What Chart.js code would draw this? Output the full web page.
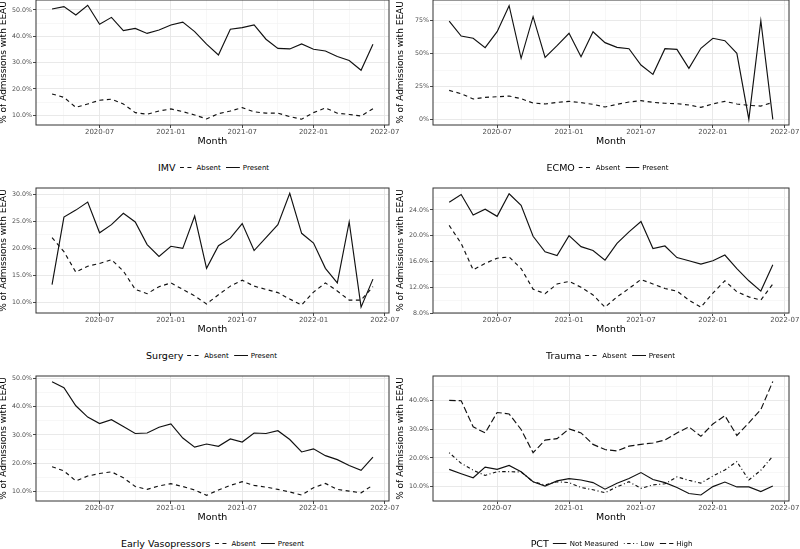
<!DOCTYPE html>
<html>
<head>
<meta charset="utf-8">
<script src="https://cdn.jsdelivr.net/npm/chart.js@4.4.1/dist/chart.umd.min.js"></script>
<style>
  html, body { margin: 0; padding: 0; background: #fff; }
  body { width: 800px; height: 549px; position: relative; overflow: hidden; font-family: "DejaVu Sans", sans-serif; }
  canvas { position: absolute; }
  .legend { position: absolute; display: flex; align-items: center; white-space: nowrap; transform: translate(-50%, -50%); color: #000; }
  .legend .ttl { font-size: 9.5px; margin-right: 4px; }
  .legend .lbl { font-size: 7px; margin-right: 5px; }
  .legend svg { margin-right: 3px; }
</style>
</head>
<body>
<canvas id="imvChart" width="401" height="160" style="left:-1px;top:-10px"></canvas>
<canvas id="ecmoChart" width="404" height="160" style="left:396px;top:-10px"></canvas>
<canvas id="surgeryChart" width="401" height="160" style="left:-1px;top:178px"></canvas>
<canvas id="traumaChart" width="404" height="160" style="left:396px;top:178px"></canvas>
<canvas id="vasoChart" width="401" height="160" style="left:-1px;top:366px"></canvas>
<canvas id="pctChart" width="404" height="160" style="left:396px;top:366px"></canvas>

<script>
// Monthly data, 2020-03 .. 2022-06
const months = [
  "2020-03", "2020-04", "2020-05", "2020-06", "2020-07", "2020-08", "2020-09",
  "2020-10", "2020-11", "2020-12", "2021-01", "2021-02", "2021-03", "2021-04",
  "2021-05", "2021-06", "2021-07", "2021-08", "2021-09", "2021-10", "2021-11",
  "2021-12", "2022-01", "2022-02", "2022-03", "2022-04", "2022-05", "2022-06",
];
const tickLabels = ["2020-07", "2021-01", "2021-07", "2022-01", "2022-07"];

const imvAbsent = [18.1, 16.8, 13.0, 14.3, 15.7, 16.1, 14.3, 11.0, 10.4, 11.6, 12.4, 11.4, 10.1, 8.6, 10.6, 11.6, 12.9, 11.3, 10.8, 10.8, 9.5, 8.5, 11.0, 12.8, 10.8, 10.3, 9.7, 12.5];
const imvPresent = [50.4, 51.3, 48.1, 51.8, 44.6, 47.2, 42.2, 43.0, 41.1, 42.4, 44.3, 45.4, 41.8, 37.0, 32.9, 42.7, 43.3, 44.3, 38.9, 35.4, 35.2, 37.1, 35.1, 34.4, 32.3, 30.8, 27.1, 37.0];

const ecmoAbsent = [22.0, 19.5, 15.5, 16.7, 17.2, 17.7, 15.7, 12.4, 11.7, 12.9, 13.7, 12.7, 11.4, 9.4, 11.4, 13.2, 14.2, 12.9, 12.2, 11.9, 10.9, 9.1, 11.7, 13.7, 11.7, 10.6, 10.1, 12.9];
const ecmoPresent = [74.7, 63.3, 61.6, 54.5, 66.6, 86.4, 46.4, 78.0, 47.1, 56.0, 65.4, 47.6, 66.6, 58.3, 54.7, 53.7, 41.3, 34.2, 53.7, 53.2, 38.8, 54.0, 61.6, 59.8, 50.2, 0, 75.0, 0];

const surgeryAbsent = [22.0, 19.4, 15.6, 16.7, 17.2, 17.9, 15.8, 12.4, 11.6, 12.9, 13.6, 12.4, 11.2, 9.7, 11.4, 13.0, 14.1, 13.0, 12.4, 11.8, 10.6, 9.5, 11.9, 13.6, 12.1, 10.4, 10.4, 12.9];
const surgeryPresent = [13.3, 25.8, 27.1, 28.6, 22.9, 24.4, 26.5, 24.9, 20.7, 18.5, 20.4, 20.0, 26.0, 16.3, 20.5, 21.9, 24.6, 19.6, 22.0, 24.4, 30.2, 22.8, 21.0, 16.3, 13.6, 24.9, 9.1, 14.3];

const traumaAbsent = [21.6, 18.8, 14.7, 15.7, 16.5, 16.7, 14.9, 11.7, 11.0, 12.5, 12.9, 12.0, 10.8, 8.9, 10.5, 11.8, 13.2, 12.5, 11.8, 11.4, 10.0, 8.9, 11.1, 13.0, 11.3, 10.5, 10.0, 12.5];
const traumaPresent = [25.2, 26.4, 23.2, 24.1, 23.0, 26.5, 24.7, 19.9, 17.5, 16.9, 20.0, 18.3, 17.7, 16.2, 18.8, 20.6, 22.2, 18.0, 18.4, 16.6, 16.1, 15.6, 16.1, 17.0, 14.9, 13.0, 11.4, 15.5];

const vasoAbsent = [18.8, 17.3, 13.8, 15.5, 16.4, 17.0, 14.9, 11.8, 10.8, 12.0, 12.8, 11.8, 10.6, 8.7, 10.6, 12.2, 13.5, 12.2, 11.6, 10.8, 9.9, 8.8, 11.4, 12.9, 10.8, 10.2, 9.6, 12.3];
const vasoPresent = [48.8, 46.7, 40.3, 36.3, 34.0, 35.4, 33.0, 30.5, 30.7, 32.7, 33.9, 28.9, 25.7, 26.8, 26.0, 28.6, 27.5, 30.7, 30.5, 31.5, 28.4, 24.0, 25.1, 22.7, 21.3, 19.2, 17.5, 22.2];

const pctNotMeasured = [16.0, 14.5, 13.1, 16.8, 16.0, 17.4, 15.2, 11.7, 10.2, 12.0, 12.8, 12.3, 11.4, 9.1, 11.2, 12.8, 14.9, 12.5, 11.4, 9.7, 7.6, 7.1, 10.0, 11.6, 9.9, 9.9, 8.3, 10.2];
const pctLow = [21.8, 18.1, 15.7, 13.9, 15.2, 15.2, 15.1, 11.7, 10.6, 11.7, 11.4, 9.7, 8.9, 7.9, 9.9, 11.7, 9.4, 10.6, 11.0, 13.4, 12.2, 11.2, 13.7, 15.8, 18.7, 12.3, 15.7, 20.6];
const pctHigh = [40.0, 39.9, 30.8, 28.7, 35.8, 35.3, 29.9, 21.8, 26.2, 26.7, 30.1, 28.7, 24.7, 22.9, 22.4, 24.1, 24.7, 25.2, 26.2, 28.7, 30.8, 27.5, 31.8, 34.7, 27.8, 32.2, 36.8, 46.6];

// line types (ggplot style)
const DASHED = [4, 3.5];
const SOLID = [];
const DOTDASH = [1, 2.5, 3.5, 2.5];
const LONGDASH = [6.5, 3];

Chart.defaults.font.family = "'DejaVu Sans', sans-serif";

const monthIndex = (m) => {
  const [y, mo] = m.split("-").map(Number);
  return (y - 2020) * 12 + (mo - 3);
};
const majorX = tickLabels.map(monthIndex);
const xTickValues = majorX.flatMap((v) => [v - 3, v]);

// draws the panel frame like theme_bw
const panelBorder = {
  id: "panelBorder",
  afterDatasetsDraw(chart) {
    const { ctx, chartArea: a } = chart;
    ctx.save();
    ctx.strokeStyle = "#333333";
    ctx.lineWidth = 1;
    ctx.strokeRect(a.left, a.top, a.right - a.left, a.bottom - a.top);
    ctx.restore();
  },
};

function makePanel(id, p) {
  const ctx = document.getElementById(id).getContext("2d");
  const width = ctx.canvas.width;
  const plotWidth = p.right - p.left;
  const half = p.step / 2;
  const isMajorY = (v) => Math.abs(v / p.step - Math.round(v / p.step)) < 1e-6;
  const yTicks = [];
  for (let v = Math.ceil(p.yMin / half) * half; v <= p.yMax + 1e-9; v += half) yTicks.push(v);

  new Chart(ctx, {
    type: "line",
    data: {
      datasets: p.series.map((s) => ({
        label: s.name,
        data: months.map((m, i) => ({ x: monthIndex(m), y: s.values[i] })),
        borderColor: "#111111",
        borderWidth: 1.15,
        borderDash: s.dash,
        pointRadius: 0,
        tension: 0,
        fill: false,
      })),
    },
    options: {
      responsive: false,
      animation: false,
      events: [],
      layout: { padding: { top: 10, left: 0, bottom: 0, right: width - 37 - plotWidth } },
      plugins: { legend: { display: false }, tooltip: { enabled: false } },
      scales: {
        x: {
          type: "linear",
          bounds: "data",
          min: -1.35,
          max: 28.35,
          afterFit: (s) => { s.height = 25; },
          afterBuildTicks: (s) => { s.ticks = xTickValues.map((v) => ({ value: v })); },
          border: { display: false },
          grid: {
            color: (c) => (majorX.includes(c.tick.value) ? "#e6e6e6" : "#f2f2f2"),
            lineWidth: (c) => (majorX.includes(c.tick.value) ? 0.9 : 0.6),
            tickColor: (c) => (majorX.includes(c.tick.value) ? "#333333" : "rgba(0,0,0,0)"),
            tickLength: 3,
          },
          ticks: {
            autoSkip: false,
            maxRotation: 0,
            padding: 0,
            color: "#4d4d4d",
            font: { size: 7 },
            callback: (v) => (majorX.includes(v) ? tickLabels[majorX.indexOf(v)] : ""),
          },
          title: {
            display: true,
            text: "Month",
            color: "#000",
            font: { size: 9.5, lineHeight: 1.2 },
            padding: { top: 0, bottom: 2.5 },
          },
        },
        y: {
          bounds: "data",
          min: p.yMin,
          max: p.yMax,
          afterFit: (s) => { s.width = 37; },
          afterBuildTicks: (s) => { s.ticks = yTicks.map((v) => ({ value: v })); },
          border: { display: false },
          grid: {
            color: (c) => (isMajorY(c.tick.value) ? "#e6e6e6" : "#f2f2f2"),
            lineWidth: (c) => (isMajorY(c.tick.value) ? 0.9 : 0.6),
            tickColor: (c) => (isMajorY(c.tick.value) ? "#333333" : "rgba(0,0,0,0)"),
            tickLength: 3,
          },
          ticks: {
            padding: 1,
            color: "#4d4d4d",
            font: { size: 6.3 },
            callback: (v) => (isMajorY(v) ? v.toFixed(p.decimals) + "%" : ""),
          },
          title: {
            display: true,
            text: "% of Admissions with EEAU",
            color: "#000",
            font: { size: 9, lineHeight: 1 },
            padding: 0,
          },
        },
      },
    },
    plugins: [panelBorder],
  });

  // legend below the panel
  const leg = document.createElement("div");
  leg.className = "legend";
  leg.style.left = p.legendX + "px";
  leg.style.top = p.legendY + "px";
  let html = `<span class="ttl">${p.title}</span>`;
  p.series.forEach((s) => {
    html += `<svg width="14" height="6"><line x1="0" y1="3" x2="14" y2="3" stroke="#111" stroke-width="1.1" stroke-dasharray="${s.dash.join(" ") || "none"}"/></svg><span class="lbl">${s.name}</span>`;
  });
  leg.innerHTML = html;
  document.body.appendChild(leg);
}

makePanel("imvChart", {
  title: "IMV", left: 36, right: 389, yMin: 6.3, yMax: 53.8, step: 10, decimals: 1,
  legendX: 216, legendY: 167,
  series: [
    { name: "Absent", values: imvAbsent, dash: DASHED },
    { name: "Present", values: imvPresent, dash: SOLID },
  ],
});

makePanel("ecmoChart", {
  title: "ECMO", left: 433, right: 789, yMin: -4.3, yMax: 90.7, step: 25, decimals: 0,
  legendX: 610, legendY: 167,
  series: [
    { name: "Absent", values: ecmoAbsent, dash: DASHED },
    { name: "Present", values: ecmoPresent, dash: SOLID },
  ],
});

makePanel("surgeryChart", {
  title: "Surgery", left: 36, right: 389, yMin: 8.02, yMax: 31.2, step: 5, decimals: 1,
  legendX: 214, legendY: 355,
  series: [
    { name: "Absent", values: surgeryAbsent, dash: DASHED },
    { name: "Present", values: surgeryPresent, dash: SOLID },
  ],
});

makePanel("traumaChart", {
  title: "Trauma", left: 433, right: 789, yMin: 8.0, yMax: 27.4, step: 4, decimals: 1,
  legendX: 613, legendY: 355,
  series: [
    { name: "Absent", values: traumaAbsent, dash: DASHED },
    { name: "Present", values: traumaPresent, dash: SOLID },
  ],
});

makePanel("vasoChart", {
  title: "Early Vasopressors", left: 36, right: 389, yMin: 6.7, yMax: 50.8, step: 10, decimals: 1,
  legendX: 215, legendY: 543,
  series: [
    { name: "Absent", values: vasoAbsent, dash: DASHED },
    { name: "Present", values: vasoPresent, dash: SOLID },
  ],
});

makePanel("pctChart", {
  title: "PCT", left: 433, right: 789, yMin: 5.0, yMax: 48.5, step: 10, decimals: 1,
  legendX: 614, legendY: 543,
  series: [
    { name: "Not Measured", values: pctNotMeasured, dash: SOLID },
    { name: "Low", values: pctLow, dash: DOTDASH },
    { name: "High", values: pctHigh, dash: LONGDASH },
  ],
});
</script>
</body>
</html>
